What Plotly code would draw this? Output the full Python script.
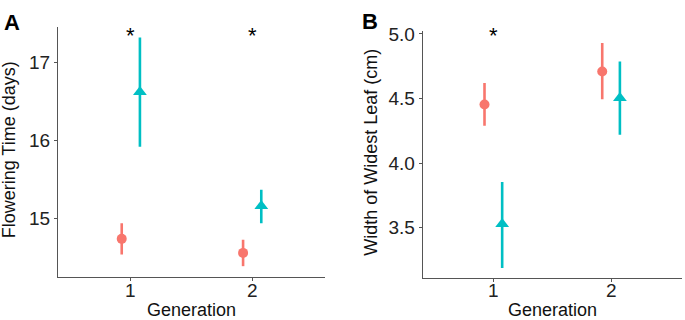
import plotly.graph_objects as go

generations = [1, 2]
gen_labels = ["1", "2"]
dodge = 0.075

# Panel A: Flowering time (days)
ft_red_mean = [14.74, 14.56]
ft_red_low = [14.54, 14.39]
ft_red_high = [14.94, 14.73]
ft_cyan_mean = [16.62, 15.16]
ft_cyan_low = [15.92, 14.94]
ft_cyan_high = [17.32, 15.37]
ft_star_gen = [1, 2]
ft_star_y = 17.30

# Panel B: Width of widest leaf (cm)
wl_red_mean = [4.455, 4.71]
wl_red_low = [4.29, 4.495]
wl_red_high = [4.62, 4.93]
wl_cyan_mean = [3.53, 4.505]
wl_cyan_low = [3.19, 4.22]
wl_cyan_high = [3.855, 4.787]
wl_star_gen = [1]
wl_star_y = 4.96

RED = "#F8766D"
CYAN = "#00BFC4"
W, H = 685, 320

def px_x(p):
    return p / W

def px_y(p):
    return (H - p) / H

fig = go.Figure()

def add_series(xa, ya, gens, mean, low, high, color, symbol, size, off):
    fig.add_trace(go.Scatter(
        x=[g + off for g in gens], y=mean, xaxis=xa, yaxis=ya,
        mode="markers",
        marker=dict(color=color, symbol=symbol, size=size, line=dict(width=0)),
        error_y=dict(type="data", symmetric=False,
                     array=[h - m for h, m in zip(high, mean)],
                     arrayminus=[m - l for m, l in zip(mean, low)],
                     color=color, thickness=2.6, width=0),
        showlegend=False, hoverinfo="skip"))

add_series("x", "y", generations, ft_red_mean, ft_red_low, ft_red_high, RED, "circle", 10, -dodge)
add_series("x", "y", generations, ft_cyan_mean, ft_cyan_low, ft_cyan_high, CYAN, "triangle-up", 12, dodge)
add_series("x2", "y2", generations, wl_red_mean, wl_red_low, wl_red_high, RED, "circle", 10, -dodge)
add_series("x2", "y2", generations, wl_cyan_mean, wl_cyan_low, wl_cyan_high, CYAN, "triangle-up", 12, dodge)

tick_font = dict(family="Liberation Sans, Arial", size=19, color="#222222")
axis_common = dict(showline=True, linecolor="#555555", linewidth=1.2, ticks="outside",
                   ticklen=3, tickcolor="#555555", showgrid=False, zeroline=False,
                   tickfont=tick_font)

fig.update_layout(
    width=W, height=H, margin=dict(l=0, r=0, t=0, b=0),
    paper_bgcolor="white", plot_bgcolor="white",
    xaxis=dict(domain=[px_x(58), px_x(325)], range=[0.4, 2.6], tickvals=generations,
               showticklabels=False, anchor="y", **axis_common),
    yaxis=dict(domain=[px_y(276), px_y(19)], range=[14.25, 17.46], tickvals=[15, 16, 17],
               anchor="x", **axis_common),
    xaxis2=dict(domain=[px_x(422.7), px_x(681.7)], range=[0.4, 2.6], tickvals=generations,
                showticklabels=False, anchor="y2", **axis_common),
    yaxis2=dict(domain=[px_y(277.3), px_y(24)], range=[3.109, 5.02], tickvals=[3.5, 4.0, 4.5, 5.0],
                ticktext=["3.5", "4.0", "4.5", "5.0"], anchor="x2", **axis_common),
    font=dict(family="Liberation Sans, Arial", color="#111111"),
)

ann = []
# X tick labels (placed close to the axis like the reference)
for xr in ["x", "x2"]:
    for g, lab in zip(generations, gen_labels):
        ann.append(dict(text=lab, x=g, y=px_y(290), xref=xr, yref="paper", showarrow=False,
                        font=tick_font, xanchor="center", yanchor="middle"))
title_font = dict(family="Liberation Sans, Arial", size=18, color="#111111")
# Axis titles
ann.append(dict(text="Flowering Time (days)", x=px_x(9), y=px_y(146), xref="paper", yref="paper",
                textangle=-90, showarrow=False, font=title_font, xanchor="center", yanchor="middle"))
ann.append(dict(text="Width of Widest Leaf (cm)", x=px_x(371), y=px_y(148.5), xref="paper", yref="paper",
                textangle=-90, showarrow=False, font=title_font, xanchor="center", yanchor="middle"))
ann.append(dict(text="Generation", x=px_x(191), y=px_y(310), xref="paper", yref="paper",
                showarrow=False, font=title_font, xanchor="center", yanchor="middle"))
ann.append(dict(text="Generation", x=px_x(552.5), y=px_y(310), xref="paper", yref="paper",
                showarrow=False, font=title_font, xanchor="center", yanchor="middle"))
# Panel letters
letter_font = dict(family="Liberation Sans, Arial", size=22, color="#000000")
ann.append(dict(text="<b>A</b>", x=px_x(11.7), y=px_y(15), xref="paper", yref="paper",
                showarrow=False, font=letter_font, xanchor="center", yanchor="middle"))
ann.append(dict(text="<b>B</b>", x=px_x(370), y=px_y(14), xref="paper", yref="paper",
                showarrow=False, font=letter_font, xanchor="center", yanchor="middle"))
# Significance stars
star_font = dict(family="Liberation Sans, Arial", size=22, color="#000000")
for g in ft_star_gen:
    ann.append(dict(text="*", x=g, y=ft_star_y, xref="x", yref="y", showarrow=False,
                    font=star_font, xanchor="center", yanchor="middle", yshift=4))
for g in wl_star_gen:
    ann.append(dict(text="*", x=g, y=wl_star_y, xref="x2", yref="y2", showarrow=False,
                    font=star_font, xanchor="center", yanchor="middle", yshift=4))
fig.update_layout(annotations=ann)

fig.write_html("out.html", config={"displayModeBar": False},
               post_script="document.body.style.margin='0px';document.body.style.padding='0px';")
